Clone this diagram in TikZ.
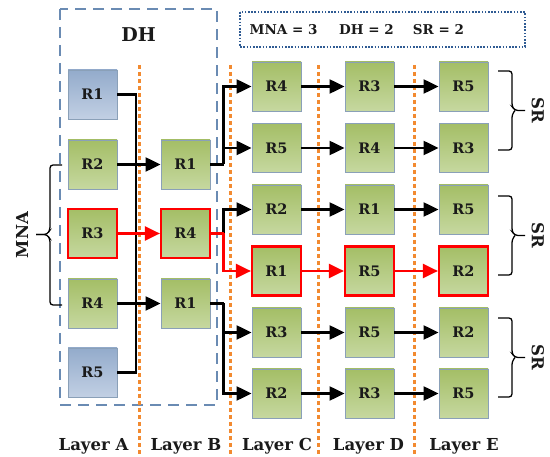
\documentclass[tikz,border=0pt]{standalone}
\usepackage{fontspec}
\setmainfont{DejaVu Serif}
\usetikzlibrary{arrows.meta,calc}
\definecolor{gtop}{HTML}{A4BE66}
\definecolor{gbot}{HTML}{C6D8A0}
\definecolor{btop}{HTML}{93ABCB}
\definecolor{bbot}{HTML}{C2D0E4}
\definecolor{edgec}{HTML}{8AA0B8}
\definecolor{dhc}{HTML}{6A8BB3}
\definecolor{infoc}{HTML}{2F5B93}
\definecolor{layc}{HTML}{F28A30}
\definecolor{ink}{HTML}{1A1A1A}
\tikzset{
  box/.style={draw=edgec, line width=0.9pt, minimum width=49pt, minimum height=49pt,
    inner sep=0pt, font=\bfseries\fontsize{14.5}{14.5}\selectfont, text=ink},
  gbox/.style={box, top color=gtop, bottom color=gbot},
  bbox/.style={box, top color=btop, bottom color=bbot},
  rbox/.style={gbox, draw=red, line width=2.2pt},
  link/.style={line width=2.3pt, black},
  arr/.style={link, -{Triangle[length=15pt,width=14pt]}},
  rlink/.style={link, red},
  rarr/.style={arr, red},
  sep/.style={draw=layc, line width=3pt, dash pattern=on 4pt off 3pt},
  brc/.style={line width=1.3pt, black, rounded corners=3pt},
  lbl/.style={font=\bfseries\fontsize{16.5}{16.5}\selectfont, text=ink},
  info/.style={font=\bfseries\fontsize{13.5}{13.5}\selectfont, text=ink},
}
\begin{document}
\begin{tikzpicture}[x=1pt, y=-1pt]
\useasboundingbox (0,0) rectangle (550,457);

% DH region and parameter box
\draw[dhc, line width=1.4pt, dash pattern=on 11pt off 7pt] (60,9) rectangle (217,405);
\node[lbl, font=\bfseries\fontsize{19}{19}\selectfont] (dh) at (138.5,35) {DH};
\draw[infoc, line width=1.6pt, dash pattern=on 1.6pt off 1.6pt] (240,12) rectangle (525,47);
\node[info] (p1) at (283.5,29.5) {MNA = 3};
\node[info] (p2) at (366.5,29.5) {DH = 2};
\node[info] (p3) at (438.5,29.5) {SR = 2};

% layer separators
\foreach \x in {139,230,318,414} \draw[sep] (\x,65) -- (\x,456);

% layer A
\node[bbox] (a1) at (92.5,94.5) {R1};
\node[gbox] (a2) at (92.5,164.5) {R2};
\node[rbox] (a3) at (92.5,233.5) {R3};
\node[gbox] (a4) at (92.5,303.5) {R4};
\node[bbox] (a5) at (92.5,372.5) {R5};
% layer B
\node[gbox] (b1) at (185.5,164.5) {R1};
\node[rbox] (b2) at (185.5,233.5) {R4};
\node[gbox] (b3) at (185.5,303.5) {R1};
% layers C, D, E
\node[gbox] (c1) at (276.5,86.5) {R4};
\node[gbox] (c2) at (276.5,148) {R5};
\node[gbox] (c3) at (276.5,209.5) {R2};
\node[rbox] (c4) at (276.5,271) {R1};
\node[gbox] (c5) at (276.5,332.5) {R3};
\node[gbox] (c6) at (276.5,393.5) {R2};
\node[gbox] (d1) at (369.5,86.5) {R3};
\node[gbox] (d2) at (369.5,148) {R4};
\node[gbox] (d3) at (369.5,209.5) {R1};
\node[rbox] (d4) at (369.5,271) {R5};
\node[gbox] (d5) at (369.5,332.5) {R5};
\node[gbox] (d6) at (369.5,393.5) {R3};
\node[gbox] (e1) at (463.5,86.5) {R5};
\node[gbox] (e2) at (463.5,148) {R3};
\node[gbox] (e3) at (463.5,209.5) {R5};
\node[rbox] (e4) at (463.5,271) {R2};
\node[gbox] (e5) at (463.5,332.5) {R2};
\node[gbox] (e6) at (463.5,393.5) {R5};

% A -> B: R1 and R5 feed a shared bus
\coordinate (busT) at (136,94.5);
\coordinate (busB) at (136,372.5);
\draw[link] (a1.east) -- (busT) -- (busB) -- (a5.east);
\draw[arr] (a2.east) -- (b1.west);
\draw[arr] (a4.east) -- (b3.west);
\draw[rarr] (a3.east) -- (b2.west);

% B -> C: each node of B forks into two
\coordinate (s1) at (223.5,164.5);
\coordinate (s2) at (223.5,233.5);
\coordinate (s3) at (223.5,303.5);
\draw[link] (b1.east) -- (s1);
\draw[arr] (s1) |- (c1.west);
\draw[arr] (s1) |- (c2.west);
\draw[arr] (s2) |- (c3.west);
\draw[rlink] (b2.east) -- (s2);
\draw[rarr] (s2) |- (c4.west);
\draw[link] (b3.east) -- (s3);
\draw[arr] (s3) |- (c5.west);
\draw[arr] (s3) |- (c6.west);

% C -> D -> E
\foreach \i in {1,2,3,5,6} {
  \draw[arr] (c\i.east) -- (d\i.west);
  \draw[arr] (d\i.east) -- (e\i.west);
}
\draw[rarr] (c4.east) -- (d4.west);
\draw[rarr] (d4.east) -- (e4.west);

% MNA brace
\draw[brc] (62,165) -- (50,165) -- (50,230) -- (47,234.5) -- (36,234.5);
\draw[brc] (62,305) -- (50,305) -- (50,239) -- (47,234.5) -- (36,234.5);
\node[lbl, rotate=90] (mna) at (22,235) {MNA};

% SR braces
\foreach \t/\b/\k in {71/150/1, 196/275/2, 318/397/3} {
  \coordinate (m\k) at (512,{(\t+\b)/2});
  \draw[brc] (498,\t) -- (512,\t) -- ($(m\k)+(0,-4)$) -- ($(m\k)+(3,0)$) -- ($(m\k)+(13,0)$);
  \draw[brc] (498,\b) -- (512,\b) -- ($(m\k)+(0,4)$) -- ($(m\k)+(3,0)$);
  \node[lbl, rotate=-90] (sr\k) at ($(m\k)+(26,0)$) {SR};
}

% layer captions
\foreach \x/\l in {93.5/A,186/B,277/C,368.5/D,464/E}
  \node[lbl, anchor=base] (lay\l) at (\x,451) {Layer \l};
\end{tikzpicture}
\end{document}
